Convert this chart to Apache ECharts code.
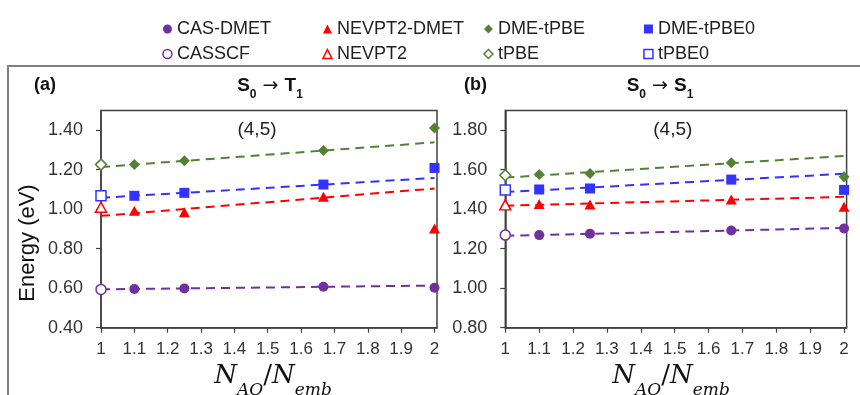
<!DOCTYPE html>
<html><head><meta charset="utf-8">
<script src="https://cdn.jsdelivr.net/npm/echarts@6/dist/echarts.min.js"></script>
<style>html,body{margin:0;padding:0;background:#fff}#c{width:860px;height:395px}</style>
</head><body><div id="c"></div>
<script>
// ---- data ----
const xRef = [1];                       // reference (full CAS / NEVPT2 / tPBE) point
const xDMET = [1.1, 1.25, 1.667, 2];    // N_AO / N_emb for DMET points
const fitCount = 3;                     // trend line fitted to the first DMET points

// panel (a) S0 -> T1
const casscfA = [0.594];
const casDmetA = [0.596, 0.599, 0.607, 0.602];
const nevptA = [1.010];
const nevptDmetA = [0.992, 0.985, 1.063, 0.903];
const tpbeA = [1.226];
const dmeTpbeA = [1.226, 1.245, 1.297, 1.412];
const tpbe0A = [1.068];
const dmeTpbe0A = [1.068, 1.083, 1.125, 1.209];

// panel (b) S0 -> S1
const casscfB = [1.269];
const casDmetB = [1.269, 1.276, 1.292, 1.303];
const nevptB = [1.422];
const nevptDmetB = [1.426, 1.424, 1.449, 1.412];
const tpbeB = [1.572];
const dmeTpbeB = [1.576, 1.581, 1.635, 1.564];
const tpbe0B = [1.498];
const dmeTpbe0B = [1.500, 1.505, 1.550, 1.498];

const xTicks = ['1','1.1','1.2','1.3','1.4','1.5','1.6','1.7','1.8','1.9','2'];
const yTicksA = ['0.40','0.60','0.80','1.00','1.20','1.40'];
const yTicksB = ['0.80','1.00','1.20','1.40','1.60','1.80'];

const legendDmet = ['CAS-DMET', 'NEVPT2-DMET', 'DME-tPBE', 'DME-tPBE0'];
const legendRef = ['CASSCF', 'NEVPT2', 'tPBE', 'tPBE0'];

// ---- styles ----
const colors = ['#7030A0', '#FF0000', '#548235', '#3333FF'];
const symbols = ['circle', 'triangle', 'diamond', 'rect'];
const sizes = [10, [11, 10], [11, 11], 10];
const axisColor = '#404040';
const textColor = '#333333';

const panels = [
  {ref: [casscfA, nevptA, tpbeA, tpbe0A], dmet: [casDmetA, nevptDmetA, dmeTpbeA, dmeTpbe0A]},
  {ref: [casscfB, nevptB, tpbeB, tpbe0B], dmet: [casDmetB, nevptDmetB, dmeTpbeB, dmeTpbe0B]}
];

function fit(xs, ys) {
  const n = xs.length;
  const mx = xs.reduce((a, b) => a + b, 0) / n;
  const my = ys.reduce((a, b) => a + b, 0) / n;
  let sxy = 0, sxx = 0;
  for (let i = 0; i < n; i++) { sxy += (xs[i] - mx) * (ys[i] - my); sxx += (xs[i] - mx) * (xs[i] - mx); }
  const b = sxy / sxx;
  return x => my + b * (x - mx);
}

const series = [];
panels.forEach((p, pi) => {
  for (let m = 0; m < 4; m++) {
    const f = fit(xDMET.slice(0, fitCount), p.dmet[m].slice(0, fitCount));
    const x0 = xRef[0], x1 = xDMET[xDMET.length - 1];
    series.push({
      type: 'line', xAxisIndex: pi, yAxisIndex: pi, silent: true, symbol: 'none', z: 1,
      data: [[x0, f(x0)], [x1, f(x1)]],
      lineStyle: {color: colors[m], width: 2, type: [9, 6]}
    });
    series.push({
      type: 'scatter', name: legendDmet[m], xAxisIndex: pi, yAxisIndex: pi, z: 3,
      symbol: symbols[m], symbolSize: sizes[m],
      itemStyle: {color: colors[m], opacity: 1},
      data: xDMET.map((x, i) => [x, p.dmet[m][i]])
    });
    series.push({
      type: 'scatter', name: legendRef[m], xAxisIndex: pi, yAxisIndex: pi, z: 4,
      symbol: symbols[m], symbolSize: sizes[m],
      itemStyle: {color: '#ffffff', borderColor: colors[m], borderWidth: 1.5, opacity: 1},
      data: xRef.map((x, i) => [x, p.ref[m][i]])
    });
  }
});

const legendX = [161.7, 321.7, 482.7, 642.7];
const legends = legendX.map((cx, m) => ({
  orient: 'vertical', left: cx - 4.5, top: 14, itemWidth: 9, itemHeight: 9, itemGap: 5,
  selectedMode: false,
  textStyle: {fontSize: 18, color: '#222', fontFamily: 'Liberation Sans, Arial, sans-serif', lineHeight: 20},
  data: [
    {name: legendDmet[m], icon: symbols[m], itemStyle: {color: colors[m], borderWidth: 0}},
    {name: legendRef[m], icon: symbols[m], itemStyle: {color: '#ffffff', borderColor: colors[m], borderWidth: 1.5}}
  ]
}));

const grids = [
  {left: 101, top: 110.5, width: 336, height: 217.2},
  {left: 505.3, top: 110.5, width: 341.3, height: 217.2}
].map(g => Object.assign(g, {show: true, borderColor: axisColor, borderWidth: 1.5, backgroundColor: 'transparent', containLabel: false, outerBoundsMode: 'none'}));

const xAxes = [0, 1].map(i => ({
  type: 'value', gridIndex: i, min: 1, max: 2.0075, interval: 0.1,
  axisLine: {show: true, onZero: false, lineStyle: {color: axisColor, width: 1.5}},
  axisTick: {show: true, length: 5, lineStyle: {color: axisColor, width: 1.2}},
  splitLine: {show: false},
  axisLabel: {
    fontSize: 17, color: textColor, margin: 13, fontFamily: 'Liberation Sans, Arial, sans-serif',
    showMinLabel: true, showMaxLabel: false,
    formatter: v => { const s = String(+v.toFixed(2)); return xTicks.indexOf(s) >= 0 ? s : ''; }
  }
}));

const yRanges = [[0.4, 1.5, yTicksA], [0.8, 1.9, yTicksB]];
const yAxes = yRanges.map((r, i) => ({
  type: 'value', gridIndex: i, min: r[0], max: r[1], interval: 0.2,
  axisLine: {show: true, onZero: false, lineStyle: {color: axisColor, width: 1.5}},
  axisTick: {show: true, length: 5, lineStyle: {color: axisColor, width: 1.2}},
  splitLine: {show: false},
  axisLabel: {
    fontSize: 18, color: textColor, margin: 18, fontFamily: 'Liberation Sans, Arial, sans-serif',
    showMinLabel: true, showMaxLabel: false,
    formatter: v => { const s = v.toFixed(2); return r[2].indexOf(s) >= 0 ? s : ''; }
  }
}));

const sans = 'Liberation Sans, Arial, sans-serif';
function titleRich(a, b) {
  return {
    text: '{m|S}{s|0}{a| → }{m|' + a + '}{s|' + b + '}',
    rich: {
      m: {fontSize: 19, fontWeight: 'bold', fontFamily: sans, lineHeight: 22, verticalAlign: 'top', fill: '#111'},
      a: {fontSize: 19, fontWeight: 'normal', fontFamily: 'DejaVu Sans, sans-serif', lineHeight: 22, verticalAlign: 'top', fill: '#111'},
      s: {fontSize: 12, fontWeight: 'bold', fontFamily: sans, lineHeight: 12, padding: [12, 0, 0, 0], verticalAlign: 'top', fill: '#111'}
    }
  };
}
const serif = 'DejaVu Serif, serif';
const xNameStyle = {
  text: '{n|N}{s|AO}{d|/}{n|N}{s|emb}',
  rich: {
    n: {fontSize: 26, fontStyle: 'italic', fontFamily: serif, lineHeight: 30, verticalAlign: 'top', fill: '#111'},
    d: {fontSize: 26, fontFamily: serif, lineHeight: 30, verticalAlign: 'top', fill: '#111'},
    s: {fontSize: 17, fontStyle: 'italic', fontFamily: serif, lineHeight: 17, padding: [19, 0, 0, 0], verticalAlign: 'top', fill: '#111'}
  }
};

const graphic = [
  {type: 'polyline', silent: true, shape: {points: [[8, 400], [8, 66], [860, 66]]}, style: {stroke: '#7f7f7f', lineWidth: 2, fill: null}},
  {type: 'text', x: 45, y: 85, style: {text: '(a)', font: 'bold 18px ' + sans, fill: '#111', textAlign: 'center', textVerticalAlign: 'middle'}},
  {type: 'text', x: 475.5, y: 85, style: {text: '(b)', font: 'bold 18px ' + sans, fill: '#111', textAlign: 'center', textVerticalAlign: 'middle'}},
  {type: 'text', x: 270, y: 76.5, style: Object.assign(titleRich('T', '1'), {textAlign: 'center', textVerticalAlign: 'top'})},
  {type: 'text', x: 660, y: 76.5, style: Object.assign(titleRich('S', '1'), {textAlign: 'center', textVerticalAlign: 'top'})},
  {type: 'text', x: 257, y: 130, style: {text: '(4,5)', font: '19px ' + sans, fill: '#222', textAlign: 'center', textVerticalAlign: 'middle'}},
  {type: 'text', x: 672.8, y: 130, style: {text: '(4,5)', font: '19px ' + sans, fill: '#222', textAlign: 'center', textVerticalAlign: 'middle'}},
  {type: 'text', x: 28, y: 243, rotation: Math.PI / 2, style: {text: 'Energy (eV)', font: '22px ' + sans, fill: '#111', textAlign: 'center', textVerticalAlign: 'middle'}},
  {type: 'text', x: 273, y: 363, style: Object.assign({}, xNameStyle, {textAlign: 'center', textVerticalAlign: 'top'})},
  {type: 'text', x: 671, y: 363, style: Object.assign({}, xNameStyle, {textAlign: 'center', textVerticalAlign: 'top'})}
];

const chart = echarts.init(document.getElementById('c'), null, {renderer: 'canvas'});
chart.setOption({
  animation: false,
  backgroundColor: '#ffffff',
  legend: legends,
  grid: grids,
  xAxis: xAxes,
  yAxis: yAxes,
  series: series,
  graphic: graphic
});
</script></body></html>
